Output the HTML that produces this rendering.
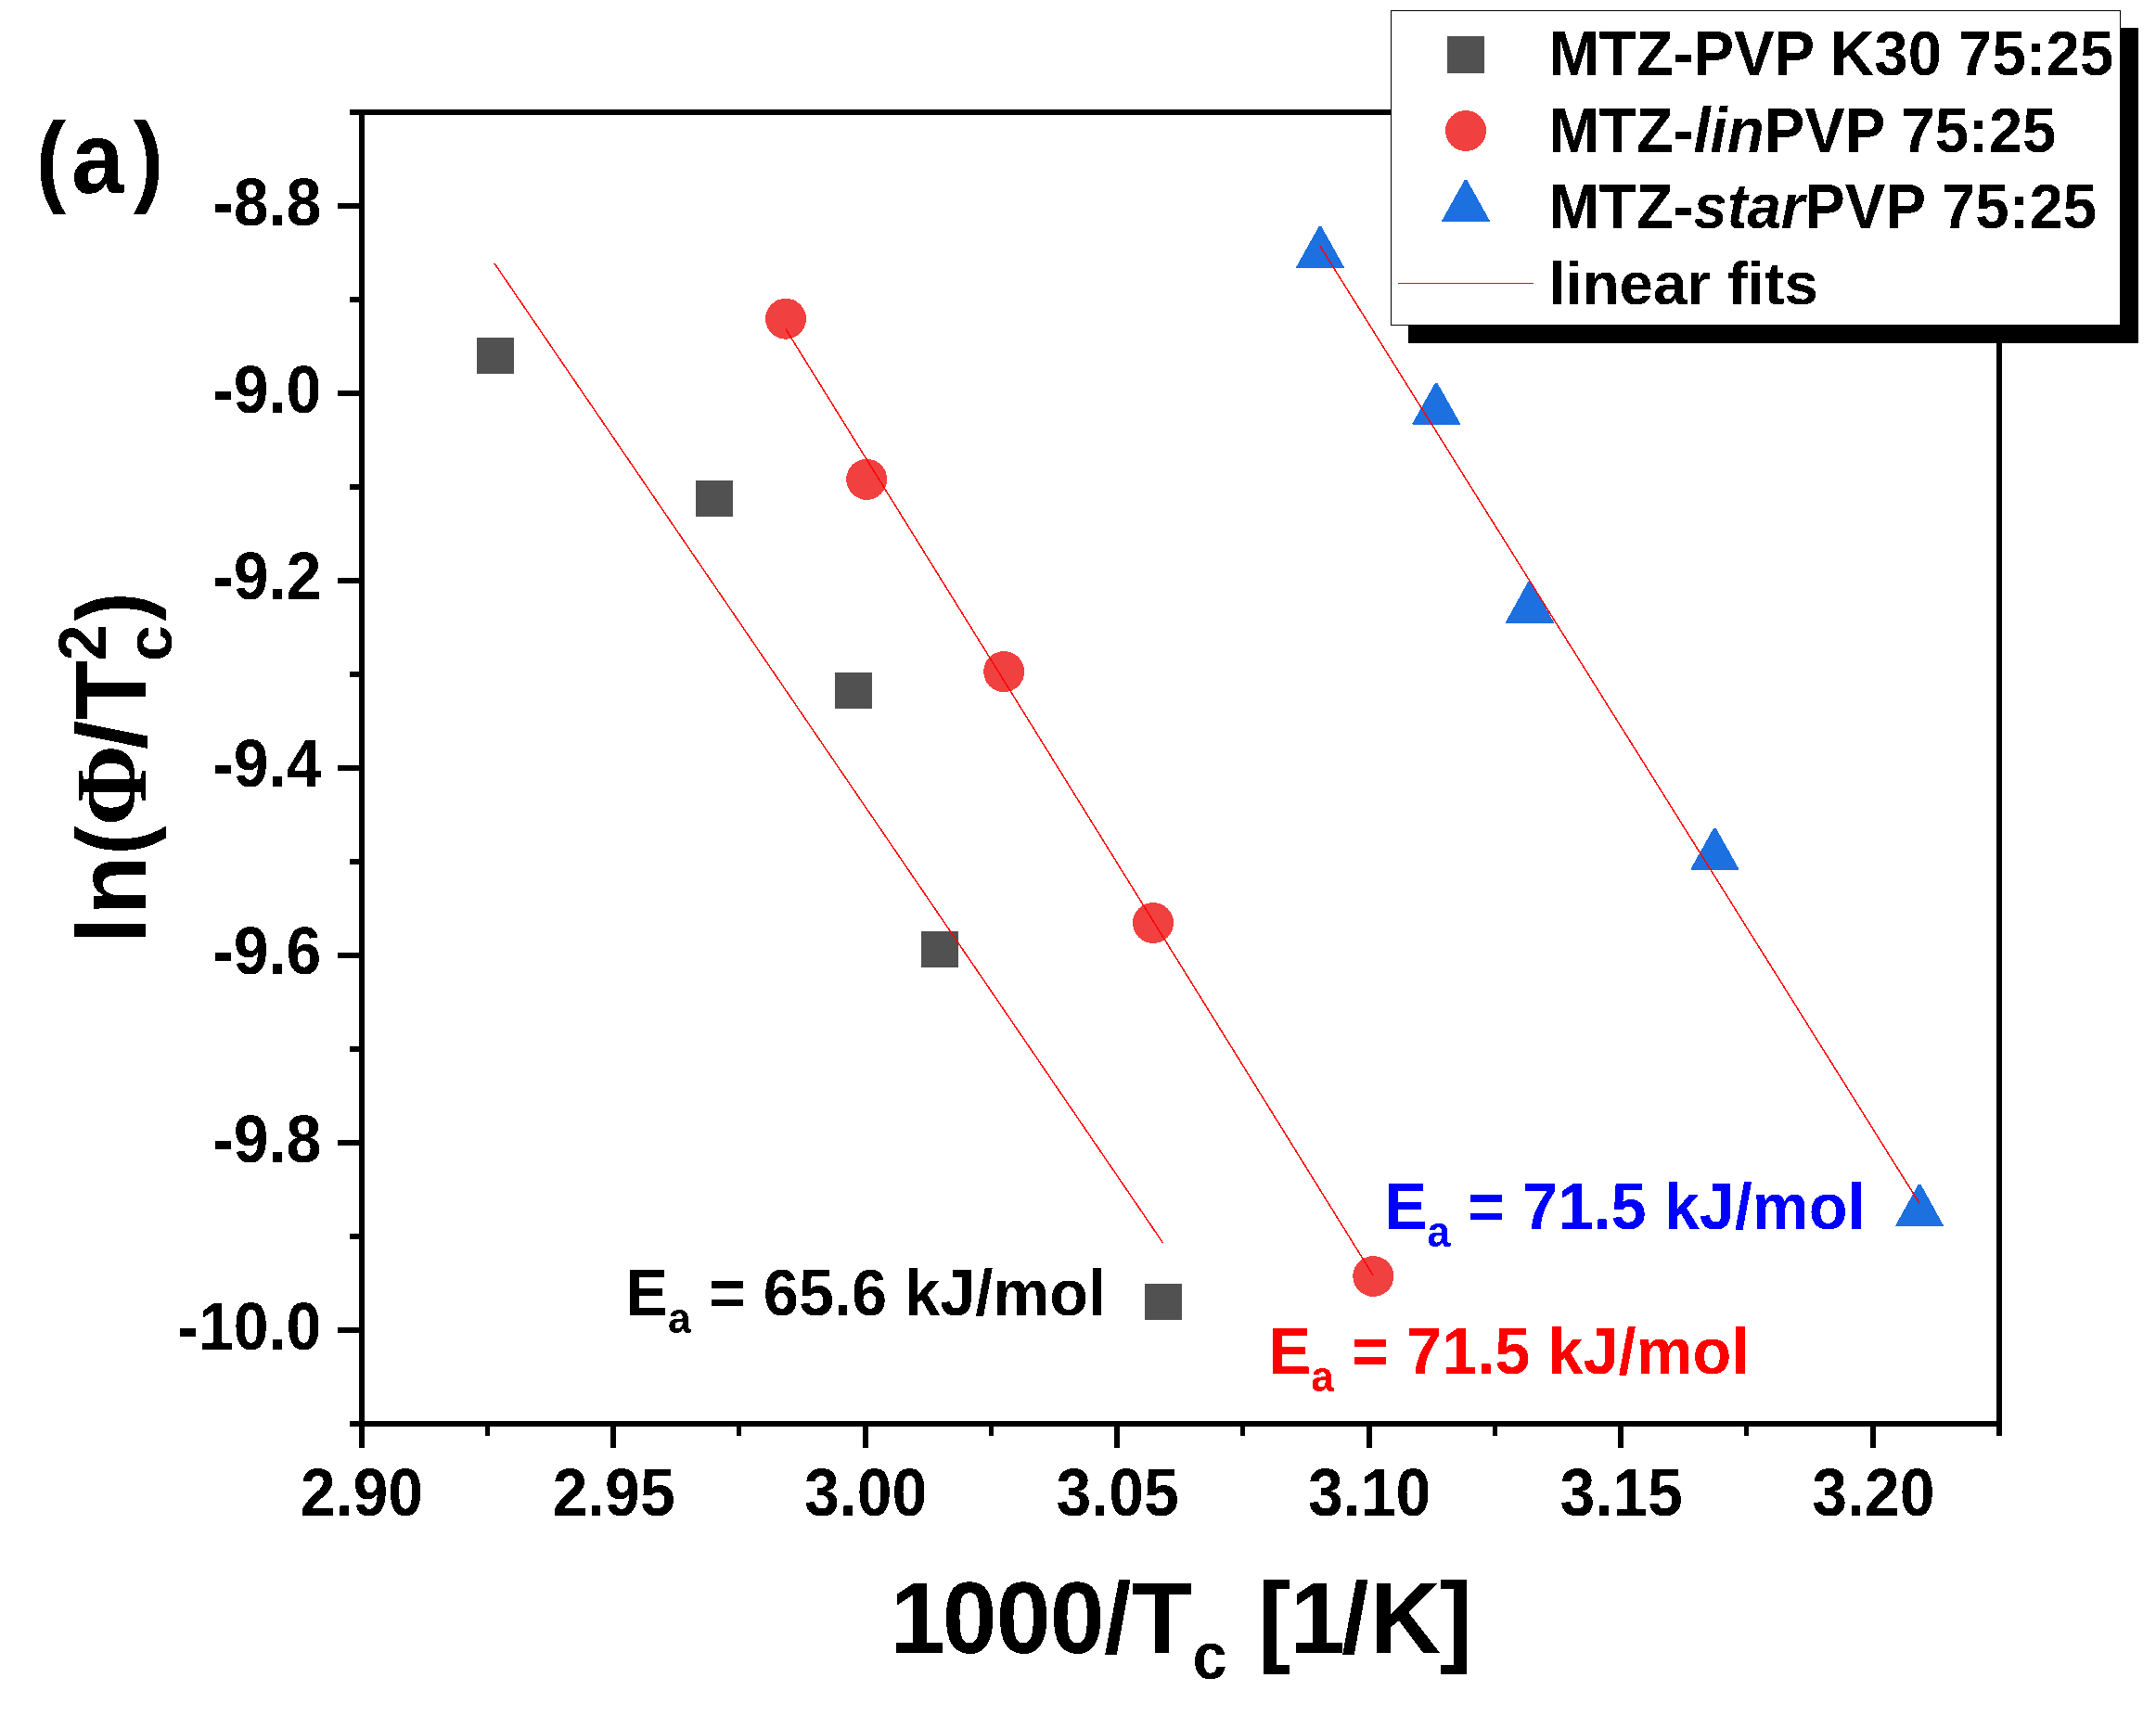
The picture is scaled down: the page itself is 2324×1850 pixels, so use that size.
<!DOCTYPE html>
<html lang="en"><head><meta charset="utf-8"><title>Kissinger plot (a)</title>
<style>
html,body{margin:0;padding:0;background:#fff;}
body{width:2324px;height:1850px;overflow:hidden;}
svg{display:block;}
text{font-family:"Liberation Sans",Arial,Helvetica,sans-serif;font-weight:bold;fill:#000;}
.phi{font-family:"Liberation Serif","Times New Roman",serif;}
.it{font-style:italic;}
</style></head><body>
<svg width="2324" height="1850" viewBox="0 0 2324 1850">
<rect x="0" y="0" width="2324" height="1850" fill="#ffffff"/>
<defs><filter id="bl" x="0" y="0" width="2324" height="1850" filterUnits="userSpaceOnUse"><feComponentTransfer><feFuncA type="discrete" tableValues="0 1"/></feComponentTransfer></filter></defs>
<g fill="#000" shape-rendering="crispEdges">
<rect x="377" y="118" width="1781" height="6"/>
<rect x="377" y="1532" width="1781" height="6"/>
<rect x="387" y="118" width="6" height="1443"/>
<rect x="2152" y="118" width="6" height="1430"/>
<rect x="364" y="219.0" width="24" height="6"/>
<rect x="364" y="421.0" width="24" height="6"/>
<rect x="364" y="623.0" width="24" height="6"/>
<rect x="364" y="825.0" width="24" height="6"/>
<rect x="364" y="1027.0" width="24" height="6"/>
<rect x="364" y="1229.0" width="24" height="6"/>
<rect x="364" y="1431.0" width="24" height="6"/>
<rect x="377" y="320.0" width="11" height="6"/>
<rect x="377" y="522.0" width="11" height="6"/>
<rect x="377" y="724.0" width="11" height="6"/>
<rect x="377" y="926.0" width="11" height="6"/>
<rect x="377" y="1128.0" width="11" height="6"/>
<rect x="377" y="1330.0" width="11" height="6"/>
<rect x="658" y="1537" width="6" height="24"/>
<rect x="930" y="1537" width="6" height="24"/>
<rect x="1201" y="1537" width="6" height="24"/>
<rect x="1473" y="1537" width="6" height="24"/>
<rect x="1744" y="1537" width="6" height="24"/>
<rect x="2016" y="1537" width="6" height="24"/>
<rect x="523" y="1537" width="5" height="11"/>
<rect x="794" y="1537" width="5" height="11"/>
<rect x="1066" y="1537" width="5" height="11"/>
<rect x="1337" y="1537" width="5" height="11"/>
<rect x="1609" y="1537" width="5" height="11"/>
<rect x="1880" y="1537" width="5" height="11"/>
</g>
<g font-size="68" filter="url(#bl)">
<text transform="translate(346.30,242.50) scale(1,1.055)" text-anchor="end">-8.8</text>
<text transform="translate(346.30,444.50) scale(1,1.055)" text-anchor="end">-9.0</text>
<text transform="translate(346.30,646.50) scale(1,1.055)" text-anchor="end">-9.2</text>
<text transform="translate(346.30,848.50) scale(1,1.055)" text-anchor="end">-9.4</text>
<text transform="translate(346.30,1050.50) scale(1,1.055)" text-anchor="end">-9.6</text>
<text transform="translate(346.30,1252.50) scale(1,1.055)" text-anchor="end">-9.8</text>
<text transform="translate(346.30,1454.50) scale(1,1.055)" text-anchor="end">-10.0</text>
<text transform="translate(390.00,1634.00) scale(1,1.055)" text-anchor="middle">2.90</text>
<text transform="translate(661.55,1634.00) scale(1,1.055)" text-anchor="middle">2.95</text>
<text transform="translate(933.10,1634.00) scale(1,1.055)" text-anchor="middle">3.00</text>
<text transform="translate(1204.65,1634.00) scale(1,1.055)" text-anchor="middle">3.05</text>
<text transform="translate(1476.20,1634.00) scale(1,1.055)" text-anchor="middle">3.10</text>
<text transform="translate(1747.75,1634.00) scale(1,1.055)" text-anchor="middle">3.15</text>
<text transform="translate(2019.30,1634.00) scale(1,1.055)" text-anchor="middle">3.20</text>
</g>
<g fill="#515151" shape-rendering="crispEdges">
<rect x="514.0" y="364.0" width="40" height="39"/>
<rect x="750.0" y="518.0" width="40" height="39"/>
<rect x="900.0" y="725.0" width="40" height="39"/>
<rect x="993.0" y="1004.0" width="40" height="39"/>
<rect x="1234.0" y="1384.0" width="40" height="39"/>
</g>
<g filter="url(#bl)">
<g fill="#f14040">
<circle cx="847.0" cy="343.7" r="22"/>
<circle cx="934.2" cy="516.8" r="22"/>
<circle cx="1082.2" cy="724.1" r="22"/>
<circle cx="1243.0" cy="995.0" r="22"/>
<circle cx="1480.3" cy="1376.0" r="22"/>
</g>
<g fill="#1a6fdf">
<polygon points="1421.7,244.0 1424.3,244.0 1449.3,288.8 1396.7,288.8"/>
<polygon points="1546.9,412.9 1549.5,412.9 1574.5,457.4 1521.9,457.4"/>
<polygon points="1647.6,626.2 1650.2,626.2 1675.2,671.6 1622.6,671.6"/>
<polygon points="1847.1,892.8 1849.7,892.8 1874.7,937.6 1822.1,937.6"/>
<polygon points="2067.8,1276.8 2070.4,1276.8 2095.4,1321.9 2042.8,1321.9"/>
</g>
</g>
<g stroke="#ff0000" stroke-width="1.5" shape-rendering="crispEdges" fill="none">
<line x1="533" y1="284" x2="1253.7" y2="1340.1"/>
<line x1="846.9" y1="354.7" x2="1480.3" y2="1375.2"/>
<line x1="1422.5" y1="264.6" x2="2069.1" y2="1297.4"/>
</g>
<g filter="url(#bl)">
<text transform="translate(674.30,1418.10) scale(1,1.04)" font-size="68.5" style="fill:#000000">E<tspan font-size="44.5" dy="18.3">a</tspan><tspan dy="-18.3"> = 65.6 kJ/mol</tspan></text>
<text transform="translate(1367.60,1481.00) scale(1,1.04)" font-size="68.5" style="fill:#ff0000">E<tspan font-size="44.5" dy="18.3">a</tspan><tspan dy="-18.3"> = 71.5 kJ/mol</tspan></text>
<text transform="translate(1492.80,1324.90) scale(1,1.04)" font-size="68.5" style="fill:#0000ff">E<tspan font-size="44.5" dy="18.3">a</tspan><tspan dy="-18.3"> = 71.5 kJ/mol</tspan></text>
<text transform="translate(38.85,207.60) scale(0.89,1)" font-size="109.5">(</text><text transform="translate(76.90,207.60) scale(0.93,1)" font-size="109.5">a</text><text transform="translate(143.70,207.60) scale(0.89,1)" font-size="109.5">)</text>
<text transform="translate(0.00,1782.00) scale(1,1.04)" font-size="106" x="959.5 1015.7 1073.7 1131.7 1189.9 1220.1">1000/T</text><text transform="translate(1285.50,1810.00) scale(0.93,1.0)" font-size="72">c</text> <text transform="translate(0.00,1782.00) scale(1,1.04)" font-size="106" x="1355.9 1390.5 1445.9 1476.4 1551.4">[1/K]</text>
<g transform="translate(157,1012) rotate(-90)">
<text transform="translate(0.00,0.00) scale(1,1)" font-size="105" x="-5.3 25.2">ln</text><text transform="translate(90.45,0.00) scale(0.89,1)" font-size="105">(</text><text transform="translate(121.75,0.00) scale(1,1.05)" font-size="105" class="phi">Φ</text><text transform="translate(204.10,0.00) scale(1.08,1)" font-size="105">/</text><text transform="translate(235.90,0.00) scale(1,1.04)" font-size="105">T</text><text transform="translate(299.40,-43.10) scale(1,1.04)" font-size="70">2</text><text transform="translate(299.10,28.10) scale(1,1)" font-size="70">c</text><text transform="translate(342.30,0.00) scale(0.89,1)" font-size="105">)</text>
</g>
</g>
<rect x="1518" y="30" width="787" height="340" fill="#000" shape-rendering="crispEdges"/>
<rect x="1499.5" y="11.5" width="786" height="339" fill="#fff" stroke="#000" stroke-width="1" shape-rendering="crispEdges"/>
<rect x="1560" y="39" width="40" height="40" fill="#515151" shape-rendering="crispEdges"/>
<g filter="url(#bl)">
<circle cx="1580" cy="141" r="22" fill="#f14040"/>
<polygon points="1578.7,194.1 1581.3,194.1 1606.3,238.7 1553.7,238.7" fill="#1a6fdf"/>
</g>
<line x1="1507" y1="305.5" x2="1653" y2="305.5" stroke="#ff0000" stroke-width="1.5" shape-rendering="crispEdges"/>
<g font-size="65.35" filter="url(#bl)">
<text transform="translate(1669.40,81.00) scale(1,1.04)">MTZ-PVP K30 75:25</text>
<text transform="translate(1669.40,164.00) scale(1,1.04)">MTZ-<tspan class="it">lin</tspan>PVP 75:25</text>
<text transform="translate(1669.40,245.50) scale(1,1.04)">MTZ-<tspan class="it">star</tspan>PVP 75:25</text>
<text transform="translate(1669.40,328.00) scale(1,1)">linear fits</text>
</g>
</svg>
</body></html>
